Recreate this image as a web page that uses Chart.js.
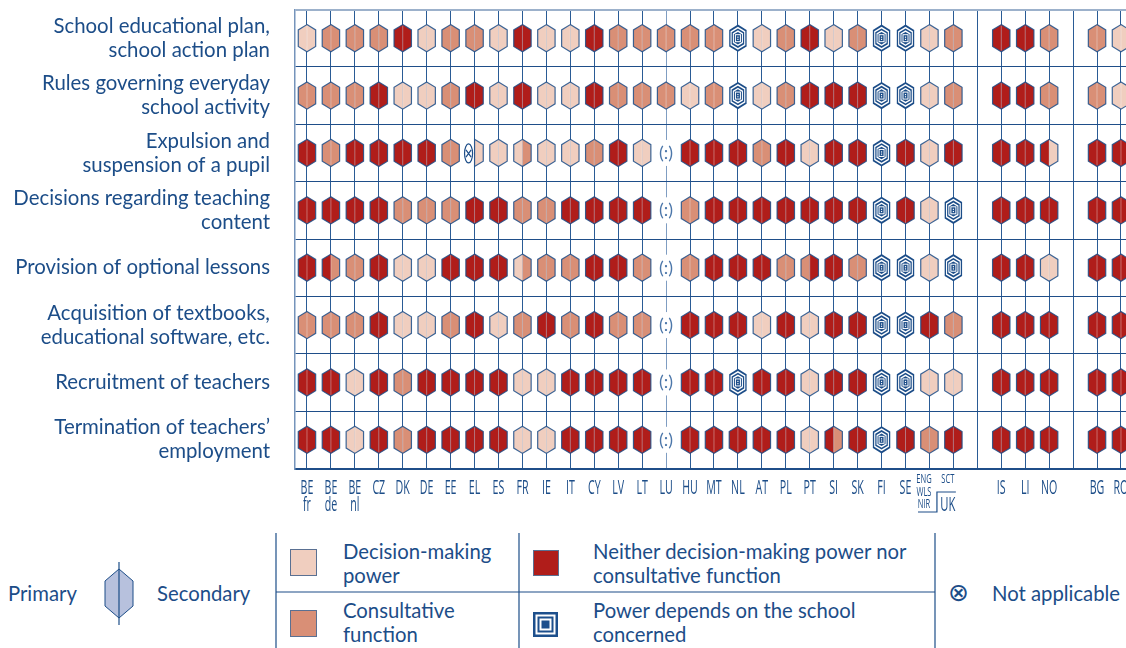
<!DOCTYPE html>
<html>
<head>
<meta charset="utf-8">
<script src="https://cdn.jsdelivr.net/npm/chart.js@4.4.1/dist/chart.umd.min.js"></script>
<style>
html,body{margin:0;padding:0;background:#fff;width:1126px;height:648px;overflow:hidden;}
#wrap{position:absolute;left:0;top:0;width:1126px;height:520px;}
#legsvg{position:absolute;left:0;top:520px;}
.lg{position:absolute;color:#1c4d88;font-family:Lato,"Open Sans",sans-serif;font-size:20.3px;line-height:24px;white-space:nowrap;}
</style>
</head>
<body>
<div id="wrap"><canvas id="c"></canvas></div>

<svg id="legsvg" width="1126" height="128" xmlns="http://www.w3.org/2000/svg">
  <line x1="276" y1="13" x2="276" y2="128" stroke="#1c4d88" stroke-width="1.2"/>
  <line x1="519" y1="13" x2="519" y2="128" stroke="#1c4d88" stroke-width="1.2"/>
  <line x1="935" y1="13" x2="935" y2="128" stroke="#1c4d88" stroke-width="1.2"/>
  <line x1="276" y1="72" x2="935" y2="72" stroke="#1c4d88" stroke-width="1.2"/>
  <polygon points="119,49 133,61 133,86 119,98 105,86 105,61" fill="#b7c1dd" stroke="#1c4d88" stroke-width="1"/>
  <line x1="119" y1="42" x2="119" y2="105" stroke="#1c4d88" stroke-width="1.2"/>
  <rect x="290.5" y="29.5" width="26" height="26" fill="#f0cebf" stroke="#5a7092" stroke-width="1"/>
  <rect x="290.5" y="90.5" width="26" height="26" fill="#d98f76" stroke="#5a7092" stroke-width="1"/>
  <rect x="533.5" y="30.5" width="25" height="25" fill="#b01d1a" stroke="#5a7092" stroke-width="1"/>
  <rect x="533" y="92" width="25" height="25" fill="#1d4f8c"/>
  <rect x="535.5" y="94.5" width="20" height="20" fill="#fff"/>
  <rect x="537.5" y="96.5" width="16" height="16" fill="#1d4f8c"/>
  <rect x="539.5" y="98.5" width="12" height="12" fill="#fff"/>
  <rect x="541.5" y="100.5" width="8" height="8" fill="#1d4f8c"/>
</svg>
<div class="lg" style="left:8px;top:581px;">Primary</div>
<div class="lg" style="left:157px;top:581px;">Secondary</div>
<div class="lg" style="left:343px;top:539px;">Decision-making<br>power</div>
<div class="lg" style="left:593px;top:539px;">Neither decision-making power nor<br>consultative function</div>
<div class="lg" style="left:343px;top:599px;line-height:23.5px;">Consultative<br>function</div>
<div class="lg" style="left:593px;top:599px;line-height:23.5px;">Power depends on the school<br>concerned</div>
<div class="lg" style="left:948px;top:580px;font-family:'DejaVu Sans',sans-serif;font-size:25px;line-height:26px;">⊗</div>
<div class="lg" style="left:992px;top:581px;">Not applicable</div>

<script>
// ---------- DATA ----------
// Codes: L = decision-making power, M = consultative function,
// D = neither decision-making power nor consultative function,
// B = power depends on the school concerned, N = not available (:), X = not applicable
// "P|S" = primary | secondary when they differ.
const countries = ['BE fr','BE de','BE nl','CZ','DK','DE','EE','EL','ES','FR','IE','IT','CY','LV','LT','LU',
  'HU','MT','NL','AT','PL','PT','SI','SK','FI','SE','UK-ENG/WLS/NIR','UK-SCT','IS','LI','NO','BG','RO'];
const tickLabels = [['BE','fr'],['BE','de'],['BE','nl'],['CZ'],['DK'],['DE'],['EE'],['EL'],['ES'],['FR'],['IE'],['IT'],
  ['CY'],['LV'],['LT'],['LU'],['HU'],['MT'],['NL'],['AT'],['PL'],['PT'],['SI'],['SK'],['FI'],['SE'],
  ['ENG','WLS','NIR'],['SCT'],['IS'],['LI'],['NO'],['BG'],['RO']];
const groupStarts = [28, 31]; // first country of each later group (EFTA, candidate countries)

const rowLabels = [
  ['School educational plan,','school action plan'],
  ['Rules governing everyday','school activity'],
  ['Expulsion and','suspension of a pupil'],
  ['Decisions regarding teaching','content'],
  ['Provision of optional lessons'],
  ['Acquisition of textbooks,','educational software, etc.'],
  ['Recruitment of teachers'],
  ['Termination of teachers\u2019','employment']
];

const schoolPlan      = ['L','M','M','M','D','L','M','M','L','D','L','L','D','M','M','M','M','M','B','L','M','D','L','M','B','B','L','M','D','D','M','M','L'];
const everydayRules   = ['M','M','M','D','L','L','M','D','L','D','L','L','D','M','M','M','L','M','B','L','M','D','D','D','B','B','L','M','D','D','M','M','L'];
const expulsion       = ['D','M','D','D','D','D','M','X|L','L','L|M','L','L','M','D','L','N','D','D','D','M','D','L','D','D','B','D','L','D','D','D','D|L','D','D'];
const teachingContent = ['D','D','D','D','M','M','M','D','D','M','M','D','D','D','D','N','M','D','D','D','D','D','D','D','B','D','L','B','D','D','D','D','D'];
const optionalLessons = ['D','D|M','M','D','L','L','D','D','D','L|M','M','M','D','D','M','N','M','D','D','D','M','M|D','D','M','B','B','L','B','D','D','L','D','D'];
const textbooks       = ['M','M','M','D','L','L','M','D','L','M','D','M','D','M','M','N','D','D','D','L','D','L','D','D','B','B','D','M','D','D','D','D','D'];
const recruitment     = ['D','D','L','D','M','D','D','D','D','L','L','D','D','D','D','N','D','D','B','D','D','L','D','D','B','B','L','L','D','D','D','D','D'];
const termination     = ['D','D','L','D','M','D','D','D','D','L','L','D','D','D','D','N','D','D','D','D','D','L','D|M','D','B','D','M','D','D','D','D','D','D'];

const rows = [schoolPlan, everydayRules, expulsion, teachingContent, optionalLessons, textbooks, recruitment, termination];

// ---------- STYLE ----------
const BLUE = '#1c4d88';
const FILL = { L: '#f0cebf', M: '#d98f76', D: '#b01d1a' };
const slotOf = ci => ci + groupStarts.filter(g => ci >= g).length;
const nSlots = countries.length + groupStarts.length;

const points = [];
rows.forEach((r, ri) => r.forEach((code, ci) => {
  const [p, s] = code.split('|');
  points.push({ x: slotOf(ci), y: ri + 0.5, p: p, s: s || p });
}));

const HW = 8.7, HH = 13.6, HS = 8.3;
function hexPts(cx, cy, k) {
  const w = HW * k, h = HH * k, s = HS * k;
  return [[cx, cy - h], [cx + w, cy - s], [cx + w, cy + s], [cx, cy + h], [cx - w, cy + s], [cx - w, cy - s]];
}
function pathPts(ctx, pts) {
  ctx.beginPath();
  pts.forEach((p, i) => i ? ctx.lineTo(p[0], p[1]) : ctx.moveTo(p[0], p[1]));
  ctx.closePath();
}
function halfPts(cx, cy, side) {
  const f = hexPts(cx, cy, 1);
  return side === 'L' ? [f[0], f[5], f[4], f[3]] : [f[0], f[1], f[2], f[3]];
}
function drawBlueHex(ctx, cx, cy) {
  const seq = [[1, BLUE], [0.85, '#fff'], [0.72, BLUE], [0.58, '#fff'], [0.46, BLUE]];
  seq.forEach(([k, c]) => { pathPts(ctx, hexPts(cx, cy, k)); ctx.fillStyle = c; ctx.fill(); });
  ctx.strokeStyle = '#fff'; ctx.lineWidth = 1;
  ctx.strokeRect(cx - 2.5, cy - 3.5, 5, 7);
  ctx.fillStyle = '#fff';
  ctx.fillRect(cx - 0.6, cy - 1.6, 1.2, 1.2);
  ctx.fillRect(cx - 0.6, cy + 0.6, 1.2, 1.2);
}

const cellPlugin = {
  id: 'cells',
  afterDatasetsDraw(chart) {
    const ctx = chart.ctx;
    const meta = chart.getDatasetMeta(0);
    const data = chart.data.datasets[0].data;
    ctx.save();
    meta.data.forEach((el, i) => {
      const d = data[i];
      const cx = el.x, cy = el.y;
      if (d.p === 'N') {
        ctx.fillStyle = '#fff';
        ctx.fillRect(cx - 5, cy - 13, 10, 26);
        ctx.fillStyle = '#4c77aa';
        ctx.font = '18px Lato, "Open Sans", sans-serif';
        ctx.textAlign = 'center'; ctx.textBaseline = 'middle';
        ctx.fillText('(:)', cx, cy);
        return;
      }
      if (d.p === 'B') { drawBlueHex(ctx, cx, cy); return; }
      ctx.lineJoin = 'miter';
      if (d.p === 'X') {
        pathPts(ctx, halfPts(cx, cy, 'R'));
        ctx.fillStyle = FILL[d.s]; ctx.fill();
        ctx.strokeStyle = 'rgba(28,77,136,0.85)'; ctx.lineWidth = 1.2; ctx.stroke();
        const ex = cx - 6, ey = cy + 0.5;
        ctx.fillStyle = '#fff';
        ctx.beginPath(); ctx.ellipse(ex, ey, 4, 9.5, 0, 0, Math.PI * 2); ctx.fill();
        ctx.strokeStyle = BLUE; ctx.lineWidth = 1.2; ctx.stroke();
        ctx.beginPath();
        ctx.moveTo(ex - 2.6, ey - 3.6); ctx.lineTo(ex + 2.6, ey + 3.6);
        ctx.moveTo(ex + 2.6, ey - 3.6); ctx.lineTo(ex - 2.6, ey + 3.6);
        ctx.stroke();
        return;
      }
      pathPts(ctx, halfPts(cx, cy, 'L')); ctx.fillStyle = FILL[d.p]; ctx.fill();
      pathPts(ctx, halfPts(cx, cy, 'R')); ctx.fillStyle = FILL[d.s]; ctx.fill();
      ctx.strokeStyle = 'rgba(255,255,255,0.35)'; ctx.lineWidth = 1;
      ctx.beginPath(); ctx.moveTo(cx, cy - HH + 1); ctx.lineTo(cx, cy + HH - 1); ctx.stroke();
      pathPts(ctx, hexPts(cx, cy, 1));
      ctx.strokeStyle = 'rgba(28,77,136,0.85)'; ctx.lineWidth = 1.2; ctx.stroke();
    });
    ctx.restore();
  },
  afterDraw(chart) {
    const ctx = chart.ctx;
    const xs = chart.scales.x;
    const base = chart.chartArea.bottom;
    ctx.save();
    ctx.fillStyle = BLUE;
    ctx.textAlign = 'center'; ctx.textBaseline = 'middle';
    const cond = (t, x, y, size, sx) => {
      ctx.save(); ctx.translate(x, y); ctx.scale(sx, 1);
      ctx.font = size + 'px "Open Sans", sans-serif';
      ctx.fillText(t, 0, 0); ctx.restore();
    };
    tickLabels.forEach((lines, ci) => {
      const x = xs.getPixelForValue(slotOf(ci));
      if (lines.length === 3) {
        lines.forEach((t, li) => cond(t, x - 5.5, base + 11 + li * 12.5, 13, 0.58));
        return;
      }
      if (countries[ci] === 'UK-SCT') {
        cond('SCT', x - 5.5, base + 11, 13, 0.58);
        cond('UK', x - 5.5, base + 37, 20.5, 0.55);
        const xe = xs.getPixelForValue(slotOf(ci - 1));
        ctx.strokeStyle = BLUE; ctx.lineWidth = 1.2;
        ctx.beginPath();
        ctx.moveTo(x + 2.5, base + 23.5); ctx.lineTo(xe + 7.5, base + 23.5);
        ctx.lineTo(xe + 7.5, base + 43.5); ctx.lineTo(xe - 11.5, base + 43.5);
        ctx.stroke();
        return;
      }
      lines.forEach((t, li) => cond(t, x, base + 20 + li * 17, 20.5, 0.52));
    });
    ctx.restore();
  }
};

const allSlots = Array.from({ length: nSlots }, (_, i) => i);
const yTicks = [];
for (let i = 0; i <= rows.length; i++) { yTicks.push(i); if (i < rows.length) yTicks.push(i + 0.5); }

new Chart(document.getElementById('c'), {
  type: 'scatter',
  data: { datasets: [{ data: points, pointRadius: 0, pointHoverRadius: 0 }] },
  options: {
    responsive: true,
    maintainAspectRatio: false,
    animation: false,
    events: [],
    layout: { padding: { top: 9.5, left: 0, right: 0, bottom: 0 } },
    plugins: { legend: { display: false }, tooltip: { enabled: false } },
    scales: {
      x: {
        type: 'linear',
        min: -0.5,
        max: 34.21,
        afterBuildTicks: s => { s.ticks = allSlots.map(v => ({ value: v })); },
        afterFit: s => { s.height = 51.5; s.paddingLeft = 0; s.paddingRight = 0; },
        ticks: { display: false },
        grid: {
          drawTicks: false,
          lineWidth: 1,
          color: ctx => (ctx.tick && ctx.tick.value === slotOf(countries.indexOf('LU'))) ? '#7f9dc2' : '#2a5b95'
        },
        border: { display: true, color: '#1f4e89', width: 2 }
      },
      y: {
        type: 'linear',
        min: 0,
        max: rows.length,
        reverse: true,
        afterBuildTicks: s => { s.ticks = yTicks.map(v => ({ value: v })); },
        afterFit: s => { s.width = 295; s.paddingTop = 0; s.paddingBottom = 0; },
        ticks: {
          autoSkip: false,
          padding: 25,
          color: BLUE,
          font: { family: 'Lato, "Open Sans", sans-serif', size: 20.4, lineHeight: 24 / 20.4 },
          callback: v => Number.isInteger(v) ? '' : rowLabels[v - 0.5]
        },
        grid: {
          drawTicks: false,
          color: ctx => {
            const v = ctx.tick ? ctx.tick.value : 0.5;
            if (!Number.isInteger(v)) return 'rgba(0,0,0,0)';
            return v === 0 ? '#9cb1cb' : '#1f4e89';
          },
          lineWidth: ctx => (ctx.tick && ctx.tick.value === 0) ? 2 : 1
        },
        border: { display: true, color: '#7594bb', width: 1.5 }
      }
    }
  },
  plugins: [cellPlugin]
});
</script>
</body>
</html>
